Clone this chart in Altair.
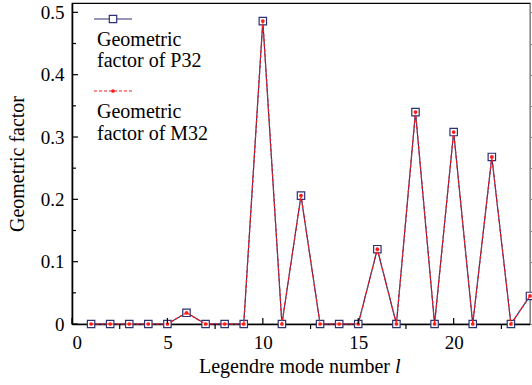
import altair as alt
import pandas as pd

# Data
l_values = list(range(1, 25))
p32 = [0, 0, 0, 0, 0, 0.018, 0, 0, 0, 0.486, 0, 0.206, 0, 0, 0, 0.120, 0, 0.340, 0, 0.308, 0, 0.268, 0, 0.045]
m32 = [0, 0, 0, 0, 0, 0.018, 0, 0, 0, 0.486, 0, 0.206, 0, 0, 0, 0.120, 0, 0.340, 0, 0.308, 0, 0.268, 0, 0.045]
x_major = [0, 5, 10, 15, 20]
x_minor = [2.5, 7.5, 12.5, 17.5, 22.5]
y_major = [0, 0.1, 0.2, 0.3, 0.4, 0.5]
y_minor = [0.05, 0.15, 0.25, 0.35, 0.45]

FONT = "Liberation Serif"
FS = 19
FT = 20
W, H = 458, 321
NAVY = "#2e3170"
RED = "#ff1a1a"

df = pd.DataFrame({"l": l_values, "p32": p32, "m32": m32})

xs = alt.Scale(domain=[0, 24], nice=False, zero=False)
ys = alt.Scale(domain=[0, 0.515], nice=False)

xax = alt.Axis(values=x_major, ticks=False, labelFontSize=FS, labelFont=FONT, labelColor="black",
               labelPadding=9, domainColor="black", domainWidth=1.6, grid=False, title=None, format="d")
yax = alt.Axis(values=y_major, ticks=False, labelFontSize=FS, labelFont=FONT, labelColor="black",
               labelPadding=8, domainColor="black", domainWidth=1.6, grid=False,
               title="Geometric factor", titleFont=FONT, titleFontSize=FT, titleFontWeight="normal",
               titleColor="black", titlePadding=13,
               labelExpr="datum.value == 0 ? '0' : format(datum.value, '.1f')")

base = alt.Chart(df)

p_line = base.mark_line(color=NAVY, strokeWidth=1.2).encode(
    x=alt.X("l:Q", scale=xs, axis=xax), y=alt.Y("p32:Q", scale=ys, axis=yax))
p_pts = base.mark_point(shape="square", size=55, filled=False, color=NAVY, strokeWidth=1.2,
                        fill="white", fillOpacity=1, opacity=1).encode(
    x=alt.X("l:Q", scale=xs), y=alt.Y("p32:Q", scale=ys))
m_line = base.mark_line(color=RED, strokeWidth=1.2, strokeDash=[3, 2]).encode(
    x=alt.X("l:Q", scale=xs), y=alt.Y("m32:Q", scale=ys))
m_pts = base.mark_point(shape="circle", size=14, filled=True, color=RED, opacity=1).encode(
    x=alt.X("l:Q", scale=xs), y=alt.Y("m32:Q", scale=ys))

# tick marks
xmaj = alt.Chart(pd.DataFrame({"v": x_major})).mark_rule(color="black", strokeWidth=1.2).encode(
    x=alt.X("v:Q", scale=xs), y=alt.value(H), y2=alt.value(H - 6))
xmin = alt.Chart(pd.DataFrame({"v": x_minor})).mark_rule(color="black", strokeWidth=1.2).encode(
    x=alt.X("v:Q", scale=xs), y=alt.value(H), y2=alt.value(H + 5))
ymaj = alt.Chart(pd.DataFrame({"v": y_major})).mark_rule(color="black", strokeWidth=1.2).encode(
    y=alt.Y("v:Q", scale=ys), x=alt.value(0), x2=alt.value(6))
ymin = alt.Chart(pd.DataFrame({"v": y_minor})).mark_rule(color="black", strokeWidth=1.2).encode(
    y=alt.Y("v:Q", scale=ys), x=alt.value(0), x2=alt.value(4))

# x title with italic l
xt1 = alt.Chart(pd.DataFrame({"t": ["Legendre mode number"]})).mark_text(
    font=FONT, fontSize=FT, align="right", baseline="alphabetic", color="black").encode(
    text="t:N", x=alt.value(318), y=alt.value(H + 49))
xt2 = alt.Chart(pd.DataFrame({"t": ["l"]})).mark_text(
    font=FONT, fontSize=FT, fontStyle="italic", align="left", baseline="alphabetic", color="black").encode(
    text="t:N", x=alt.value(323), y=alt.value(H + 49))

# legend
leg_p_line = alt.Chart(pd.DataFrame({"a": [0]})).mark_rule(color=NAVY, strokeWidth=1.2).encode(
    x=alt.value(22), x2=alt.value(60), y=alt.value(16))
leg_p_pt = alt.Chart(pd.DataFrame({"a": [0]})).mark_point(shape="square", size=55, filled=False, color=NAVY,
                                                         strokeWidth=1.2, fill="white", fillOpacity=1, opacity=1).encode(
    x=alt.value(41), y=alt.value(16))
leg_m_line = alt.Chart(pd.DataFrame({"a": [0]})).mark_rule(color=RED, strokeWidth=1.2, strokeDash=[3, 2]).encode(
    x=alt.value(22), x2=alt.value(60), y=alt.value(88))
leg_m_pt = alt.Chart(pd.DataFrame({"a": [0]})).mark_point(shape="circle", size=14, filled=True, color=RED, opacity=1).encode(
    x=alt.value(41), y=alt.value(88))
leg_text = alt.Chart(pd.DataFrame({
    "t": ["Geometric", "factor of P32", "Geometric", "factor of M32"],
    "yy": [43, 64, 115, 137]})).mark_text(
    font=FONT, fontSize=FT, align="left", baseline="alphabetic", color="black").encode(
    text="t:N", x=alt.value(25), y=alt.Y("yy:Q", scale=alt.Scale(domain=[0, H], range=[0, H]), axis=None))

chart = alt.layer(
    p_line, p_pts, m_line, m_pts, xmaj, xmin, ymaj, ymin, xt1, xt2,
    leg_p_line, leg_p_pt, leg_m_line, leg_m_pt, leg_text
).resolve_scale(y="independent").properties(
    width=W, height=H,
    autosize=alt.AutoSizeParams(type="none"),
    padding={"left": 72, "top": 3, "right": 2, "bottom": 61},
    background="white"
).configure_view(stroke="black", strokeWidth=1.2)

chart.save("out.html", embed_options={"renderer": "svg", "actions": False})
